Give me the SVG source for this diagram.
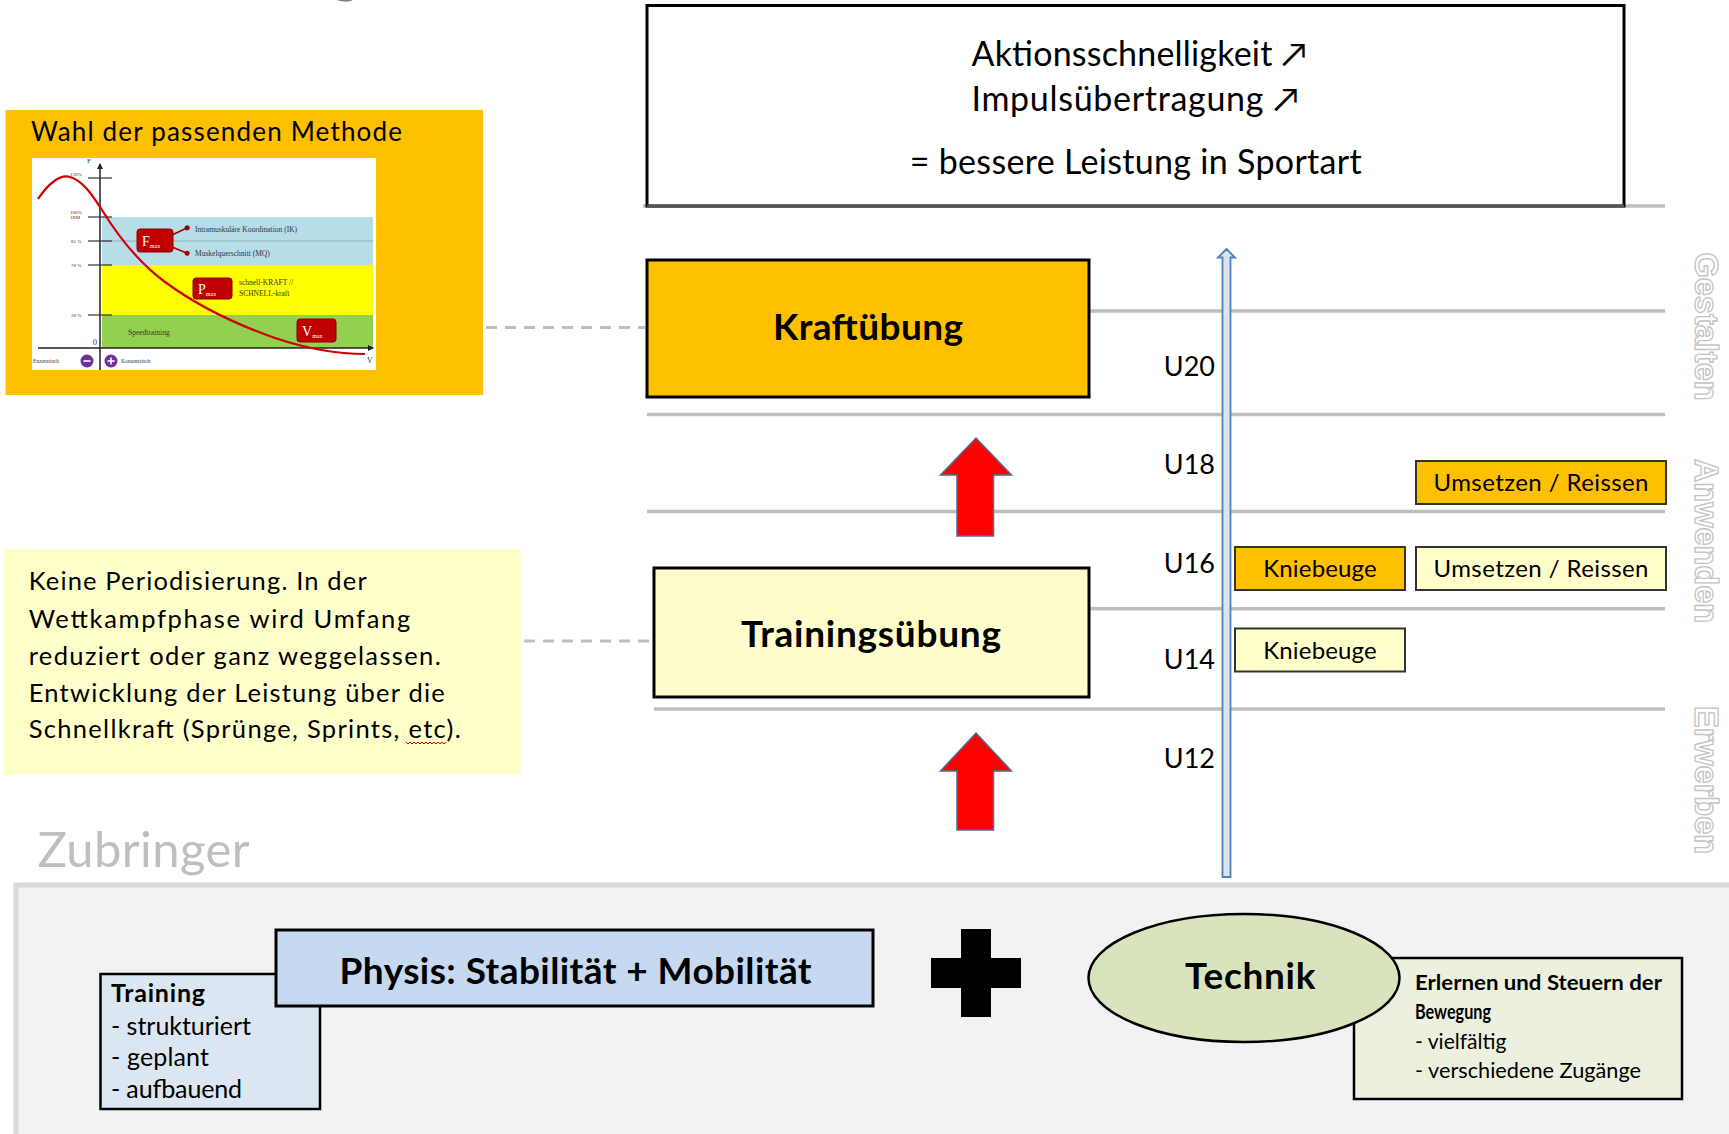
<svg xmlns="http://www.w3.org/2000/svg" width="1729" height="1134" viewBox="0 0 1729 1134">
<defs>
<style>
.t{font-family:Lato,"DejaVu Sans",sans-serif;fill:#000}
.b{font-weight:700}
.gl{stroke:#BFBFBF;stroke-width:3.5;fill:none}
.dash{stroke:#BFBFBF;stroke-width:3;stroke-dasharray:11 8;fill:none}
.box{stroke:#000;stroke-width:3}
.sbox{stroke:#333;stroke-width:2}
.red{fill:#FF0000;stroke:#4A6D9A;stroke-width:1.5}
.side{font-family:"Liberation Sans",Arial,sans-serif;font-weight:700;font-size:32.5px;fill:#FFFFFF;stroke:#C4C4C4;stroke-width:1.3}
.ch{font-family:"Liberation Serif","Times New Roman",serif;fill:#333}
.mx{fill:#C00000;stroke:#8B0000;stroke-width:1}
.mxt{font-family:"Liberation Serif",serif;fill:#fff}
</style>
<marker id="ah" markerWidth="6" markerHeight="6" refX="5" refY="3" orient="auto" markerUnits="userSpaceOnUse">
<path d="M0,0 L6,3 L0,6 z" fill="#222"/>
</marker>
<marker id="rah" markerWidth="6" markerHeight="6" refX="5" refY="3" orient="auto" markerUnits="userSpaceOnUse">
<circle cx="3" cy="3" r="2.5" fill="#A00000"/>
</marker>
</defs>
<rect x="0" y="0" width="1729" height="1134" fill="#FFFFFF"/>

<text class="t" x="330" y="-9" font-size="60" style="fill:#7F7F7F">g</text>

<!-- level lines -->
<g id="levels">
<line class="gl" x1="643" y1="206" x2="1665" y2="206"/>
<line class="gl" x1="1089" y1="311" x2="1665" y2="311"/>
<line class="gl" x1="647" y1="414.6" x2="1665" y2="414.6"/>
<line class="gl" x1="647" y1="511.6" x2="1665" y2="511.6"/>
<line class="gl" x1="1089" y1="608.7" x2="1665" y2="608.7"/>
<line class="gl" x1="654" y1="709" x2="1665" y2="709"/>
</g>

<!-- Top result box -->
<g id="ergebnis">
<rect x="647" y="5.5" width="977" height="200.5" fill="#FFFFFF" stroke="#000" stroke-width="3"/>
<line x1="647" y1="206" x2="1624" y2="206" stroke="#555" stroke-width="3"/>
<text class="t" x="971.5" y="66" font-size="34" textLength="335.5">Aktionsschnelligkeit ↗</text>
<text class="t" x="971.5" y="111" font-size="34" textLength="327.5">Impulsübertragung ↗</text>
<text class="t" x="909.7" y="174" font-size="34" textLength="452">= bessere Leistung in Sportart</text>
</g>

<!-- Methode panel -->
<g id="methode">
<rect x="5.5" y="110" width="477.5" height="285" fill="#FFC000"/>
<text class="t" x="31" y="141" font-size="26" textLength="371">Wahl der passenden Methode</text>
<g id="chart">
<rect x="32" y="158" width="344" height="212" fill="#FFFFFF"/>
<rect x="102" y="217" width="271" height="48" fill="#B7DDE8"/>
<line x1="102" y1="241" x2="373" y2="241" stroke="#8FB3BF" stroke-width="1"/>
<rect x="102" y="265" width="271" height="50" fill="#FFFF00"/>
<rect x="102" y="315" width="271" height="33" fill="#92D050"/>
<line x1="100" y1="370" x2="100" y2="164" stroke="#222" stroke-width="1.5" marker-end="url(#ah)"/>
<line x1="38" y1="348" x2="373" y2="348" stroke="#222" stroke-width="1.5" marker-end="url(#ah)"/>
<g stroke="#333" stroke-width="1.2">
<line x1="88" y1="178" x2="112" y2="178"/>
<line x1="88" y1="217" x2="112" y2="217"/>
<line x1="88" y1="241" x2="112" y2="241"/>
<line x1="88" y1="265" x2="112" y2="265"/>
<line x1="88" y1="315" x2="112" y2="315"/>
</g>
<text class="ch" x="87" y="163" font-size="7">F</text>
<text class="ch" x="70" y="176" font-size="5">130%</text>
<text class="ch" x="70" y="214" font-size="5">100%</text>
<text class="ch" x="70" y="219" font-size="5">1RM</text>
<text class="ch" x="71" y="243" font-size="5">85 %</text>
<text class="ch" x="71" y="267" font-size="5">70 %</text>
<text class="ch" x="71" y="317" font-size="5">30 %</text>
<text class="ch" x="93" y="345" font-size="8">0</text>
<text class="ch" x="367" y="363" font-size="8">V</text>
<path d="M38,199 C48,184 60,174 70,177 C84,181 94,198 102,210 C118,236 138,262 165,282 C195,304 235,324 275,338 C305,348 335,354 365,354" fill="none" stroke="#D00000" stroke-width="2.2"/>
<rect class="mx" x="137" y="229" width="36" height="23" rx="3"/>
<text class="mxt" x="142" y="246" font-size="14">F<tspan font-size="6" dy="2">max</tspan></text>
<line x1="172" y1="235" x2="189" y2="227" stroke="#A00000" stroke-width="1.5" marker-end="url(#rah)"/>
<line x1="172" y1="247" x2="189" y2="254" stroke="#A00000" stroke-width="1.5" marker-end="url(#rah)"/>
<text class="ch" x="195" y="232" font-size="7.5">Intramuskuläre  Koordination (IK)</text>
<text class="ch" x="195" y="256" font-size="7.5">Muskelquerschnitt (MQ)</text>
<rect class="mx" x="193" y="278" width="39" height="21" rx="3"/>
<text class="mxt" x="198" y="294" font-size="14">P<tspan font-size="6" dy="2">max</tspan></text>
<text class="ch" x="239" y="285" font-size="7.5">schnell-KRAFT //</text>
<text class="ch" x="239" y="296" font-size="7.5">SCHNELL-kraft</text>
<text class="ch" x="128" y="335" font-size="7.5">Speedtraining</text>
<rect class="mx" x="297" y="319" width="39" height="23" rx="3"/>
<text class="mxt" x="302" y="336" font-size="14">V<tspan font-size="6" dy="2">max</tspan></text>
<text class="ch" x="33" y="363" font-size="5.5">Exzentrisch</text>
<circle cx="87" cy="361" r="6.5" fill="#7030A0"/>
<line x1="83.5" y1="361" x2="90.5" y2="361" stroke="#fff" stroke-width="1.6"/>
<circle cx="111" cy="361" r="6.5" fill="#7030A0"/>
<line x1="107.5" y1="361" x2="114.5" y2="361" stroke="#fff" stroke-width="1.6"/>
<line x1="111" y1="357.5" x2="111" y2="364.5" stroke="#fff" stroke-width="1.6"/>
<text class="ch" x="121" y="363" font-size="5.5">Konzentrisch</text>
</g>
</g>

<!-- Note panel -->
<g id="notiz">
<rect x="3.4" y="549" width="517.6" height="226" fill="#FFFFCC"/>
<text class="t" x="28.7" y="590" font-size="25.5" textLength="338">Keine Periodisierung. In der</text>
<text class="t" x="28.7" y="627.5" font-size="25.5" textLength="381.5">Wettkampfphase wird Umfang</text>
<text class="t" x="28.7" y="665" font-size="25.5" textLength="412">reduziert oder ganz weggelassen.</text>
<text class="t" x="28.7" y="701.5" font-size="25.5" textLength="416">Entwicklung der Leistung über die</text>
<text class="t" x="28.7" y="738" font-size="25.5" textLength="432">Schnellkraft (Sprünge, Sprints, etc).</text>
<polyline points="406,742 408,744 410,742 412,744 414,742 416,744 418,742 420,744 422,742 424,744 426,742 428,744 430,742 432,744 434,742 436,744 438,742 440,744 442,742 444,744 446,742" fill="none" stroke="#E00000" stroke-width="1"/>
</g>

<!-- connectors -->
<g id="connectors">
<line class="dash" x1="486" y1="327.5" x2="645" y2="327.5"/>
<line class="dash" x1="524" y1="641" x2="652" y2="641"/>
<polygon class="red" points="976,438 1011.5,475 993.5,475 993.5,536 957,536 957,475 940.5,475"/>
<polygon class="red" points="976,733 1011.5,771 993.5,771 993.5,830 957,830 957,771 940.5,771"/>
<polygon points="1226.5,249 1235,257.5 1230.5,257.5 1230.5,877 1222.5,877 1222.5,257.5 1218,257.5" fill="#DDE3EA" stroke="#4F81BD" stroke-width="1.8"/>
</g>

<!-- Kraftuebung -->
<g id="kraftuebung">
<rect class="box" x="647" y="260" width="442" height="137" fill="#FFC000"/>
<text class="t b" x="773" y="340" font-size="37" textLength="190">Kraftübung</text>
</g>

<!-- Trainingsuebung -->
<g id="trainingsuebung">
<rect class="box" x="654" y="568" width="435" height="129" fill="#FFFCCC"/>
<text class="t b" x="741" y="647" font-size="37" textLength="260">Trainingsübung</text>
</g>

<!-- age labels -->
<g id="alter">
<text class="t" x="1215" y="376" text-anchor="end" font-size="27">U20</text>
<text class="t" x="1215" y="474" text-anchor="end" font-size="27">U18</text>
<text class="t" x="1215" y="573" text-anchor="end" font-size="27">U16</text>
<text class="t" x="1215" y="669" text-anchor="end" font-size="27">U14</text>
<text class="t" x="1215" y="767.5" text-anchor="end" font-size="27">U12</text>
</g>

<!-- exercise boxes -->
<g id="u18-reissen">
<rect class="sbox" x="1416" y="461" width="250" height="43" fill="#FFC000"/>
<text class="t" x="1541" y="491" font-size="24" text-anchor="middle" textLength="215">Umsetzen / Reissen</text>
</g>
<g id="u16-kniebeuge">
<rect class="sbox" x="1235" y="547" width="170" height="43" fill="#FFC000"/>
<text class="t" x="1320" y="577" font-size="24" text-anchor="middle" textLength="113.5">Kniebeuge</text>
</g>
<g id="u16-reissen">
<rect class="sbox" x="1416" y="547" width="250" height="43" fill="#FFFFCC"/>
<text class="t" x="1541" y="577" font-size="24" text-anchor="middle" textLength="215">Umsetzen / Reissen</text>
</g>
<g id="u14-kniebeuge">
<rect class="sbox" x="1235" y="628.5" width="170" height="43" fill="#FFFFCC"/>
<text class="t" x="1320" y="658.5" font-size="24" text-anchor="middle" textLength="113.5">Kniebeuge</text>
</g>

<!-- side phase labels -->
<g id="phasen">
<text class="side" transform="translate(1695,326.5) rotate(90)" text-anchor="middle">Gestalten</text>
<text class="side" transform="translate(1695,541) rotate(90)" text-anchor="middle">Anwenden</text>
<text class="side" transform="translate(1695,780) rotate(90)" text-anchor="middle">Erwerben</text>
</g>

<!-- Zubringer -->
<g id="zubringer">
<text class="t" x="37.5" y="866.5" font-size="49" textLength="212" style="fill:#BFBFBF">Zubringer</text>
<rect x="16" y="885" width="1720" height="254" fill="#F2F2F2" stroke="#D9D9D9" stroke-width="5"/>
</g>

<g id="training">
<rect x="100.5" y="974" width="219.5" height="135" fill="#DCE6F2" stroke="#000" stroke-width="2.5"/>
<text class="t b" x="111" y="1001.5" font-size="25" textLength="94">Training</text>
<text class="t" x="111" y="1034.5" font-size="25" textLength="140">- strukturiert</text>
<text class="t" x="111" y="1066" font-size="25" textLength="98">- geplant</text>
<text class="t" x="111" y="1097.5" font-size="25" textLength="131">- aufbauend</text>
</g>

<g id="physis">
<rect class="box" x="276" y="930" width="597" height="76" fill="#C6D9F1"/>
<text class="t b" x="339.6" y="984" font-size="37" textLength="472">Physis: Stabilität + Mobilität</text>
</g>

<g id="plus">
<rect x="961" y="929" width="30" height="88" fill="#000"/>
<rect x="931" y="958" width="90" height="30" fill="#000"/>
</g>

<g id="technik-beschreibung">
<rect x="1354" y="958" width="328" height="141" fill="#EBF1DE" stroke="#000" stroke-width="2.5"/>
<text class="t b" x="1415" y="990" font-size="21" textLength="247" lengthAdjust="spacingAndGlyphs">Erlernen und Steuern der</text>
<text class="t b" x="1415" y="1019" font-size="21" textLength="76" lengthAdjust="spacingAndGlyphs">Bewegung</text>
<text class="t" x="1415" y="1049" font-size="21" textLength="91.5" lengthAdjust="spacingAndGlyphs">- vielfältig</text>
<text class="t" x="1415" y="1078" font-size="21" textLength="226" lengthAdjust="spacingAndGlyphs">- verschiedene Zugänge</text>
</g>

<g id="technik">
<ellipse cx="1244" cy="978" rx="155.5" ry="64" fill="#D7E4BD" stroke="#000" stroke-width="2.5"/>
<text class="t b" x="1185" y="989" font-size="37" textLength="130.5">Technik</text>
</g>
</svg>
